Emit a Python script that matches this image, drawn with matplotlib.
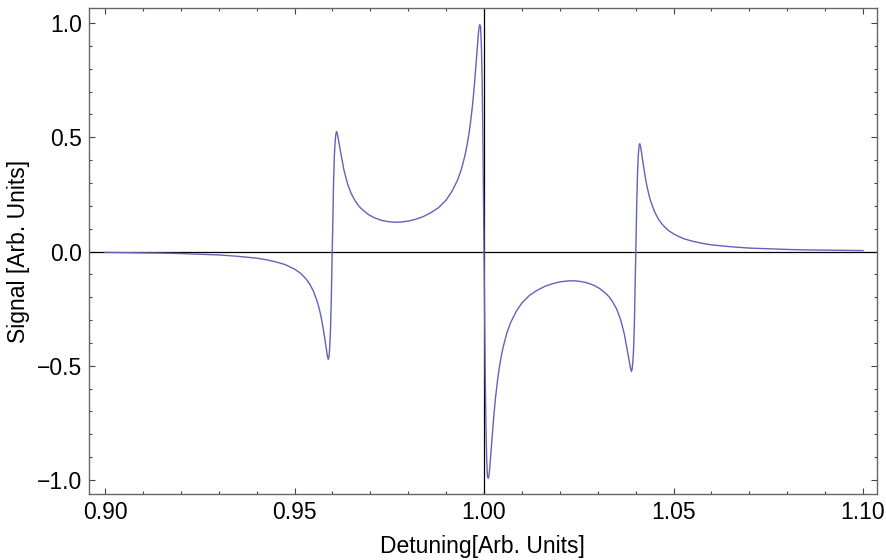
import matplotlib
matplotlib.use('Agg')
import matplotlib.pyplot as plt
from matplotlib.ticker import MultipleLocator

plt.rcParams['font.family'] = ['Liberation Sans', 'DejaVu Sans']

# detuning / signal (denser near the resonances)
detuning = [
    0.900, 0.910, 0.915, 0.920, 0.925, 0.930, 0.935, 0.940, 0.9425, 0.945,
    0.9475, 0.950, 0.9515, 0.953, 0.954, 0.955, 0.956, 0.9565, 0.957, 0.9575,
    0.958, 0.9585, 0.9587, 0.9589, 0.9591, 0.9593, 0.9595, 0.9597, 0.9599, 0.9601,
    0.9603, 0.9605, 0.9607, 0.9609, 0.9611, 0.9613, 0.9615, 0.962, 0.9625, 0.963,
    0.9635, 0.964, 0.965, 0.966, 0.967, 0.968, 0.9695, 0.971, 0.973, 0.975,
    0.9765, 0.978, 0.980, 0.982, 0.984, 0.986, 0.988, 0.990, 0.9915, 0.993,
    0.994, 0.995, 0.9955, 0.996, 0.9965, 0.997, 0.9975, 0.998, 0.9985, 0.9987,
    0.9989, 0.9991, 0.9993, 0.9995, 0.9997, 0.9999, 1.000,
    1.0001, 1.0003, 1.0005, 1.0007, 1.0009, 1.0011, 1.0013, 1.0015, 1.002, 1.0025,
    1.003, 1.0035, 1.004, 1.0045, 1.005, 1.006, 1.007, 1.0085, 1.010, 1.012,
    1.014, 1.016, 1.018, 1.020, 1.022, 1.0235, 1.025, 1.027, 1.029, 1.0305,
    1.032, 1.033, 1.034, 1.035, 1.036, 1.0365, 1.037, 1.0375, 1.038, 1.0385,
    1.0387, 1.0389, 1.0391, 1.0393, 1.0395, 1.0397, 1.0399, 1.0401, 1.0403, 1.0405,
    1.0407, 1.0409, 1.0411, 1.0413, 1.0415, 1.042, 1.0425, 1.043, 1.0435, 1.044,
    1.045, 1.046, 1.047, 1.0485, 1.050, 1.0525, 1.055, 1.0575, 1.060, 1.065,
    1.070, 1.075, 1.080, 1.085, 1.090, 1.100,
]
signal = [
    -0.004, -0.006, -0.007, -0.009, -0.012, -0.015, -0.021, -0.029, -0.036, -0.045,
    -0.057, -0.077, -0.094, -0.119, -0.142, -0.174, -0.219, -0.249, -0.285, -0.330,
    -0.383, -0.440, -0.460, -0.472, -0.462, -0.420, -0.340, -0.213, -0.055, 0.125,
    0.296, 0.415, 0.475, 0.513, 0.525, 0.515, 0.498, 0.450, 0.405, 0.360,
    0.327, 0.296, 0.252, 0.222, 0.198, 0.182, 0.162, 0.148, 0.136, 0.130,
    0.128, 0.129, 0.133, 0.141, 0.153, 0.170, 0.192, 0.225, 0.262, 0.312,
    0.358, 0.422, 0.463, 0.512, 0.573, 0.645, 0.736, 0.843, 0.950, 0.982,
    0.993, 0.982, 0.905, 0.755, 0.510, 0.180, 0.000,
    -0.180, -0.510, -0.755, -0.905, -0.982, -0.993, -0.982, -0.950, -0.843, -0.736,
    -0.645, -0.573, -0.512, -0.463, -0.422, -0.358, -0.312, -0.262, -0.225, -0.192,
    -0.170, -0.153, -0.141, -0.133, -0.129, -0.128, -0.130, -0.136, -0.148, -0.162,
    -0.182, -0.198, -0.222, -0.252, -0.296, -0.327, -0.360, -0.405, -0.450, -0.498,
    -0.515, -0.525, -0.513, -0.475, -0.415, -0.296, -0.125, 0.055, 0.213, 0.340,
    0.420, 0.462, 0.472, 0.460, 0.440, 0.383, 0.330, 0.285, 0.249, 0.219,
    0.174, 0.142, 0.119, 0.094, 0.077, 0.057, 0.045, 0.036, 0.029, 0.021,
    0.015, 0.012, 0.009, 0.007, 0.006, 0.004,
]

xticks = [0.90, 0.95, 1.00, 1.05, 1.10]
yticks = [-1.0, -0.5, 0.0, 0.5, 1.0]


def main():
    fig = plt.figure(figsize=(8.86, 5.6), dpi=100)
    ax = fig.add_axes([0.1008, 0.1173, 0.8885, 0.8684])

    ax.plot(detuning, signal, color='#6262b8', lw=1.0, zorder=3)
    ax.axhline(0, color='black', lw=0.9, zorder=2)
    ax.axvline(1.0, color='black', lw=0.9, zorder=2)

    ax.set_xlim(0.89586, 1.10356)
    ax.set_ylim(-1.0626, 1.0656)
    ax.set_xticks(xticks)
    ax.set_xticklabels(['%.2f' % t for t in xticks])
    ax.set_yticks(yticks)
    ax.set_yticklabels(['%.1f' % t if t >= 0 else '\u2212%.1f' % -t for t in yticks])
    ax.xaxis.set_minor_locator(MultipleLocator(0.01))
    ax.yaxis.set_minor_locator(MultipleLocator(0.1))

    ax.tick_params(which='both', direction='in', top=True, right=True,
                   color='#444444', width=0.8, labelsize=16.5, pad=5)
    ax.tick_params(which='major', length=4)
    ax.tick_params(which='minor', length=2)
    for s in ax.spines.values():
        s.set_color('#666666')
        s.set_linewidth(1.0)

    ax.set_xlabel('Detuning[Arb. Units]', fontsize=16.5, labelpad=8)
    ax.set_ylabel('Signal [Arb. Units]', fontsize=16.5, labelpad=5)

    fig.savefig('out.png', dpi=100)


if __name__ == '__main__':
    main()
